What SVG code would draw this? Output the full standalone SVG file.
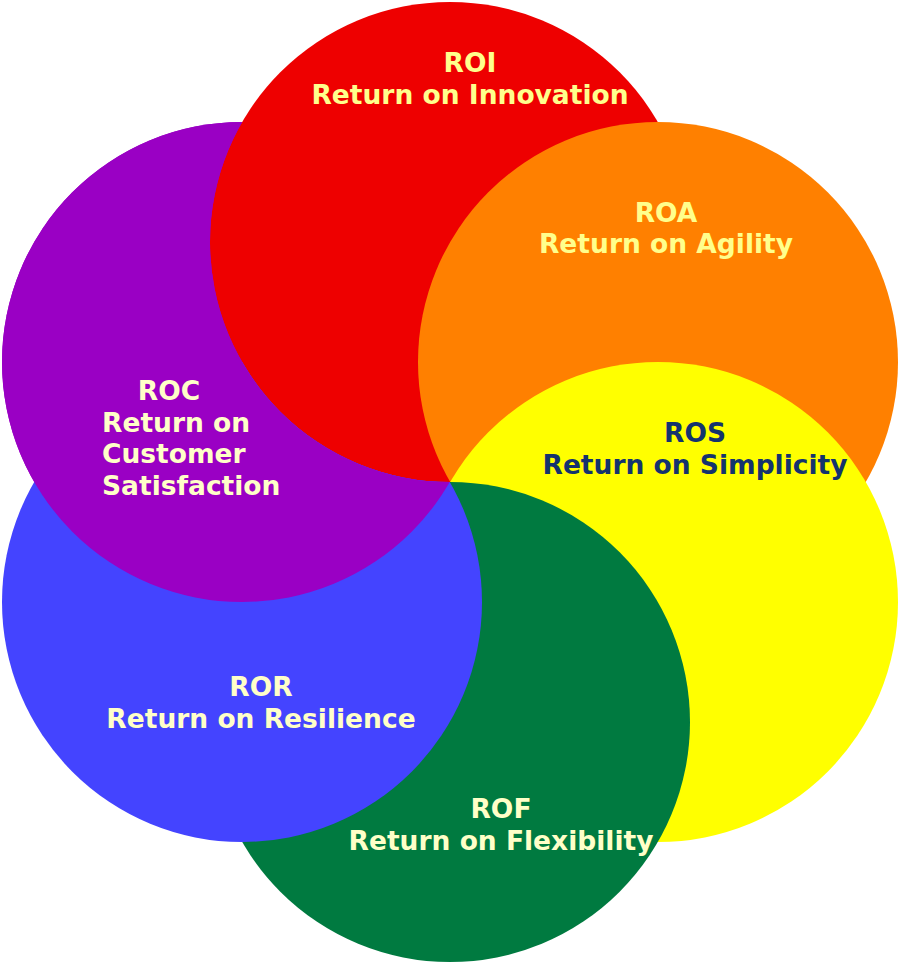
<svg xmlns="http://www.w3.org/2000/svg" width="900" height="980" viewBox="0 0 900 980">
<style>
text{font-family:"DejaVu Sans","Verdana",sans-serif;font-weight:bold;font-size:26.5px;text-anchor:middle}
.lt{fill:#FFFF8C}
.cr{fill:#FFFFC8}
.dk{fill:#14336E}
</style>
<defs>
<clipPath id="notRed">
<path clip-rule="evenodd" d="M0,0 H900 V980 H0 Z M210,242 A240,240 0 1,0 690,242 A240,240 0 1,0 210,242 Z"/>
</clipPath>
</defs>
<rect width="900" height="980" fill="#FFFFFF"/>
<g id="circles">
<circle id="c-roc" cx="242" cy="362" r="240" fill="#9A00C4"/>
<circle id="c-roi" cx="450" cy="242" r="240" fill="#EE0000"/>
<circle id="c-roa" cx="658" cy="362" r="240" fill="#FF8000"/>
<circle id="c-ros" cx="658" cy="602" r="240" fill="#FFFF00"/>
<circle id="c-rof" cx="450" cy="722" r="240" fill="#007A40"/>
<circle id="c-ror" cx="242" cy="602" r="240" fill="#4444FF" clip-path="url(#notRed)"/>
<circle id="c-roc-over" cx="242" cy="362" r="240" fill="#9A00C4" clip-path="url(#notRed)"/>
</g>
<g id="roi">
<text class="lt" x="470" y="72">ROI</text>
<text class="lt" x="470" y="104">Return on Innovation</text>
</g>
<g id="roa">
<text class="lt" x="666" y="222">ROA</text>
<text class="lt" x="666" y="253">Return on Agility</text>
</g>
<g id="ros">
<text class="dk" x="695" y="442">ROS</text>
<text class="dk" x="695" y="474">Return on Simplicity</text>
</g>
<g id="roc">
<text class="cr" x="169" y="400">ROC</text>
<text class="cr" x="102" y="432" style="text-anchor:start">Return on</text>
<text class="cr" x="102" y="463" style="text-anchor:start">Customer</text>
<text class="cr" x="102" y="495" style="text-anchor:start">Satisfaction</text>
</g>
<g id="ror">
<text class="cr" x="261" y="696">ROR</text>
<text class="cr" x="261" y="728">Return on Resilience</text>
</g>
<g id="rof">
<text class="cr" x="501" y="818">ROF</text>
<text class="cr" x="501" y="850">Return on Flexibility</text>
</g>
</svg>
